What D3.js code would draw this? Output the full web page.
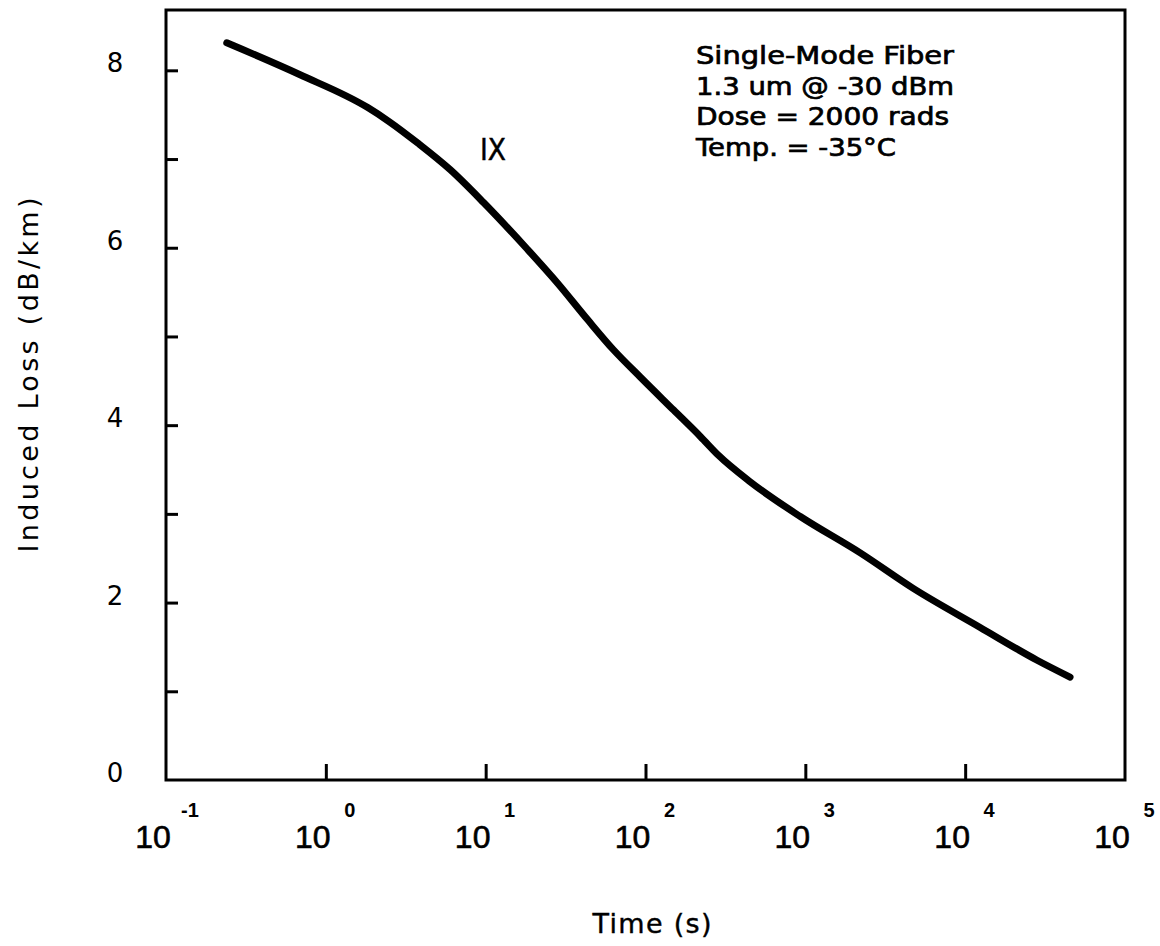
<!DOCTYPE html>
<html>
<head>
<meta charset="utf-8">
<script src="https://cdn.jsdelivr.net/npm/d3@7"></script>
<style>
  body { margin: 0; background: #fff; }
  svg { display: block; }
</style>
</head>
<body>
<svg id="chart" width="1160" height="946"></svg>
<script>
// values (time in seconds, loss in dB/km)
const timeSec = [0.24, 0.69, 1.83, 2.5, 3.76, 6.0, 9.7, 18.3, 28.2, 43.4, 63, 93, 150,
  221, 286, 453, 930, 2206, 4732, 12410, 28180, 45300];
const inducedLoss = [8.31, 7.95, 7.58, 7.42, 7.18, 6.88, 6.51, 5.98, 5.60, 5.19, 4.85, 4.54, 4.17,
  3.87, 3.66, 3.36, 2.97, 2.56, 2.16, 1.72, 1.35, 1.16];

const yTicks = [1, 2, 3, 4, 5, 6, 7, 8];
const yLabels = [0, 2, 4, 6, 8];
const xTicks = [1, 10, 100, 1000, 10000];
const xExponents = [-1, 0, 1, 2, 3, 4, 5];
const notes = ["Single-Mode Fiber", "1.3 um @ -30 dBm", "Dose = 2000 rads", "Temp. = -35°C"];
const curveName = "IX";

const svg = d3.select("#chart");

const plotLeft = 166, plotRight = 1125, plotTop = 10, plotBottom = 780;

let x = d3.scaleLog().domain([0.1, 1e5]).range([plotLeft, plotRight]);
let y = d3.scaleLinear().domain([0, 8.68]).range([plotBottom, plotTop]);

// frame
svg.append("rect")
  .attr("x", plotLeft).attr("y", plotTop)
  .attr("width", plotRight - plotLeft).attr("height", plotBottom - plotTop)
  .attr("fill", "none").attr("stroke", "#000").attr("stroke-width", 3);

// inside ticks
let xAxis = svg.append("g")
  .attr("transform", `translate(0,${plotBottom})`)
  .call(d3.axisBottom(x).tickValues(xTicks).tickSize(-16).tickFormat(""));
let yAxis = svg.append("g")
  .attr("transform", `translate(${plotLeft},0)`)
  .call(d3.axisLeft(y).tickValues(yTicks).tickSize(-12).tickFormat(""));
[xAxis, yAxis].forEach(g => {
  g.select(".domain").remove();
  g.selectAll("line").attr("stroke", "#000").attr("stroke-width", 3);
});

// y labels
svg.selectAll(".ylab")
  .data(yLabels)
  .enter()
  .append("text")
  .attr("class", "ylab")
  .attr("x", 115)
  .attr("y", d => y(d) + 2)
  .attr("text-anchor", "middle")
  .attr("font-family", "DejaVu Sans")
  .attr("font-size", 26)
  .text(d => d);

// x labels: 10 with exponent
let xl = svg.selectAll(".xlab")
  .data(xExponents)
  .enter()
  .append("g")
  .attr("class", "xlab")
  .attr("transform", d => `translate(${x(Math.pow(10, d))},0)`);
xl.append("text")
  .attr("x", -13).attr("y", 848)
  .attr("text-anchor", "middle")
  .attr("font-family", "Liberation Sans")
  .attr("font-size", 32)
  .attr("stroke", "#000")
  .attr("stroke-width", 0.6)
  .text("10");
xl.append("text")
  .attr("x", 24).attr("y", 817)
  .attr("text-anchor", "middle")
  .attr("font-family", "Liberation Sans")
  .attr("font-weight", "bold")
  .attr("font-size", 20)
  .text(d => d);

// axis titles
svg.append("text")
  .attr("transform", "translate(38,375) rotate(-90)")
  .attr("text-anchor", "middle")
  .attr("font-family", "DejaVu Sans")
  .attr("font-size", 27)
  .attr("textLength", 355)
  .attr("lengthAdjust", "spacing")
  .text("Induced Loss (dB/km)");

svg.append("text")
  .attr("x", 652).attr("y", 933)
  .attr("text-anchor", "middle")
  .attr("font-family", "DejaVu Sans")
  .attr("font-size", 27)
  .attr("stroke", "#000")
  .attr("stroke-width", 0.4)
  .attr("textLength", 119)
  .attr("lengthAdjust", "spacing")
  .text("Time (s)");

// the curve
let line = d3.line()
  .x((d, i) => x(timeSec[i]))
  .y(d => y(d))
  .curve(d3.curveMonotoneX);

svg.append("path")
  .datum(inducedLoss)
  .attr("d", line)
  .attr("fill", "none")
  .attr("stroke", "#000")
  .attr("stroke-width", 7)
  .attr("stroke-linecap", "round")
  .attr("stroke-linejoin", "round");

svg.append("text")
  .attr("x", 480).attr("y", 160)
  .attr("font-family", "DejaVu Sans")
  .attr("font-size", 31)
  .attr("stroke", "#000")
  .attr("stroke-width", 0.5)
  .attr("textLength", 26)
  .attr("lengthAdjust", "spacingAndGlyphs")
  .text(curveName);

// notes box text
const noteWidths = [258, 258, 253, 200];
svg.selectAll(".note")
  .data(notes)
  .enter()
  .append("text")
  .attr("class", "note")
  .attr("x", 696)
  .attr("y", (d, i) => 64 + i * 30.5)
  .attr("font-family", "DejaVu Sans")
  .attr("font-size", 24)
  .attr("stroke", "#000")
  .attr("stroke-width", 0.7)
  .attr("textLength", (d, i) => noteWidths[i])
  .attr("lengthAdjust", "spacingAndGlyphs")
  .text(d => d);
</script>
</body>
</html>
